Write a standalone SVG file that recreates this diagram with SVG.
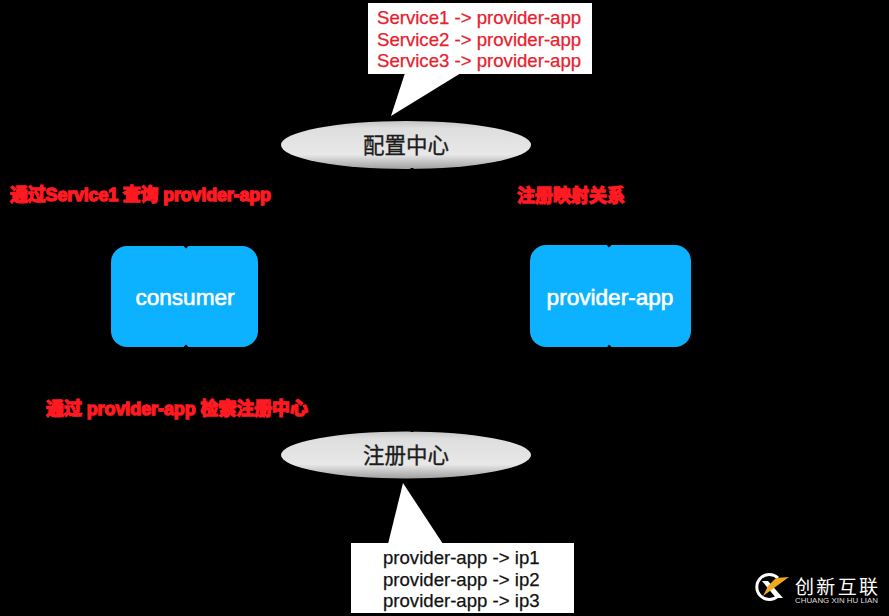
<svg xmlns="http://www.w3.org/2000/svg" width="889" height="616" viewBox="0 0 889 616">
<style>
text{font-family:"Liberation Sans","Noto Sans CJK SC",sans-serif}
.red{fill:#ff1a22;stroke:#ff1a22;stroke-width:1.4px;font-size:18px;font-weight:bold}
.callred{fill:#e8202c;stroke:#e8202c;stroke-width:.25px;font-size:18.6px}
.callblack{fill:#111;stroke:#111;stroke-width:.25px;font-size:18.6px}
.cn{fill:#1c1c1c;stroke:#1c1c1c;stroke-width:.35px;font-size:21.5px;text-anchor:middle}
.boxlabel{fill:#fff;stroke:#fff;stroke-width:.6px;font-size:22.6px;text-anchor:middle}
.box{fill:#0cb1ff}
.ell{fill:url(#eg)}
.conn{stroke:#000;stroke-width:3;fill:none}
</style>
<defs>
<linearGradient id="eg" x1="0" y1="0" x2="0" y2="1">
<stop offset="0" stop-color="#c4c4c4"/>
<stop offset="0.15" stop-color="#dedede"/>
<stop offset="0.7" stop-color="#e8e8e8"/>
<stop offset="1" stop-color="#a0a0a0"/>
</linearGradient>
</defs>
<rect width="889" height="616" fill="#000"/>
<g id="config-callout">
<polygon points="405,73 461,73 391,116" fill="#fff"/>
<rect x="368" y="3" width="224" height="71" fill="#fff"/>
<text class="callred" x="377" y="24">Service1 -&gt; provider-app</text>
<text class="callred" x="377" y="46">Service2 -&gt; provider-app</text>
<text class="callred" x="377" y="67">Service3 -&gt; provider-app</text>
</g>
<g id="config-center">
<ellipse class="ell" cx="406" cy="145" rx="125" ry="24"/>
<text class="cn" x="406" y="153">配置中心</text>
</g>
<g id="consumer">
<rect class="box" x="111" y="246" width="147" height="101" rx="16"/>
<text class="boxlabel" x="185" y="305">consumer</text>
</g>
<g id="provider-app">
<rect class="box" x="530" y="245" width="161" height="102" rx="16"/>
<text class="boxlabel" x="610" y="305">provider-app</text>
</g>
<g id="registry-center">
<ellipse class="ell" cx="406" cy="455" rx="125" ry="23.5"/>
<text class="cn" x="406" y="463">注册中心</text>
</g>
<g id="registry-callout">
<polygon points="403,483 443,544 388,544" fill="#fff"/>
<rect x="351" y="543" width="223" height="70" fill="#fff"/>
<text class="callblack" x="383" y="564">provider-app -&gt; ip1</text>
<text class="callblack" x="383" y="586">provider-app -&gt; ip2</text>
<text class="callblack" x="383" y="607">provider-app -&gt; ip3</text>
</g>
<g id="connectors">
<path class="conn" d="M185 247.500L278 146M610 246.500L534 146M185 345.500L278 455M610 345.500L534 455M412 168L412 432"/>
</g>
<g id="edge-labels">
<text class="red" x="10" y="201" textLength="261">通过Service1 查询 provider-app</text>
<text class="red" x="517" y="202" textLength="108">注册映射关系</text>
<text class="red" x="46" y="415" textLength="262">通过 provider-app 检索注册中心</text>
</g>
<g id="watermark">
<path d="M778 578A12.500 12.500 0 1 0 778 596" fill="none" stroke="#fff" stroke-width="3"/>
<path d="M762 581L768 581L783 598L776 598Z" fill="#fff"/>
<path d="M763 596L789 577L776 578L768 586Z" fill="#f0a91e"/>
<text x="795" y="594" fill="#fff" font-size="19" textLength="83">创新互联</text>
<text x="795" y="603" fill="#ddd" font-size="7" textLength="83" lengthAdjust="spacingAndGlyphs">CHUANG XIN HU LIAN</text>
</g>
</svg>
